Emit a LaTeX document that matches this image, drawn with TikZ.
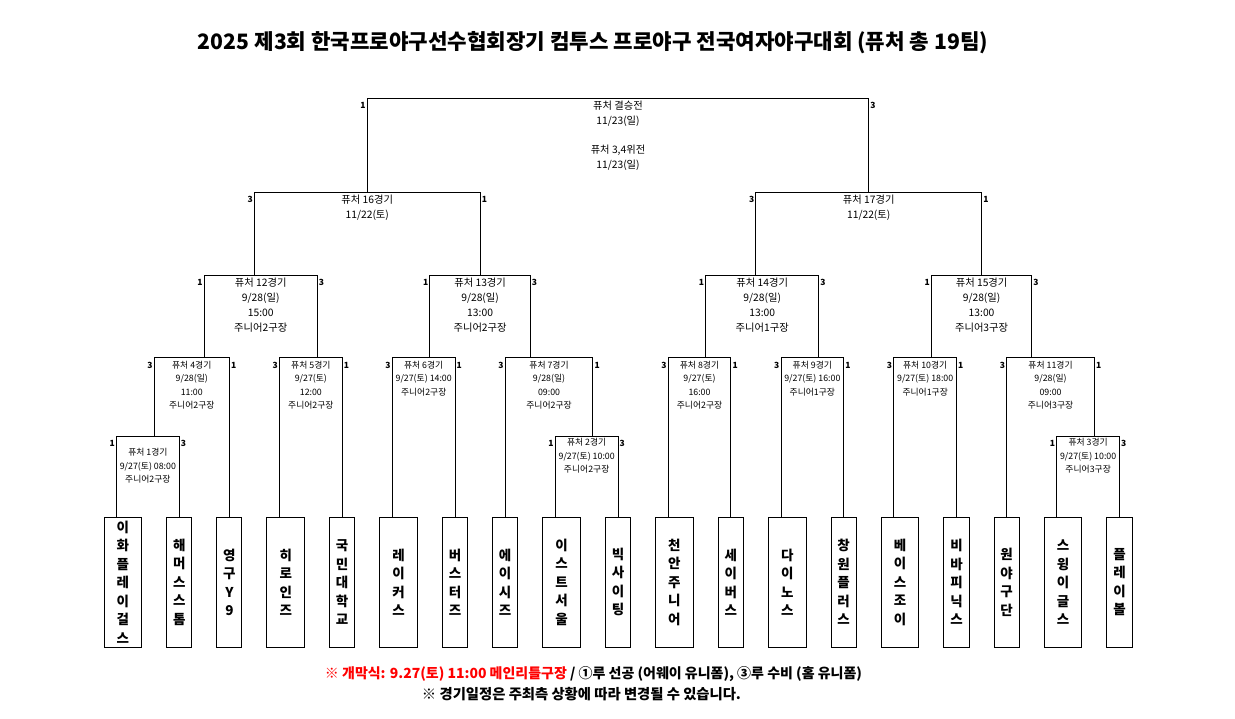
\documentclass[tikz,border=0pt]{standalone}
\usepackage{fontspec}
\usepackage{graphicx}
\setmainfont{Noto Sans CJK KR}
\definecolor{redtxt}{RGB}{255,0,0}
\tikzset{
  ln/.style={line width=1pt},
  team/.style={draw, line width=1pt, inner sep=0pt, minimum height=129.7pt, align=center,
    font=\fontsize{13.5}{18.5}\selectfont\bfseries},
  gbig/.style={align=center, font=\fontsize{10.3}{15}\selectfont, inner sep=0pt, anchor=north},
  gsmall/.style={align=center, font=\fontsize{8.8}{13.3}\selectfont, inner sep=0pt, anchor=north},
  score/.style={font=\fontsize{8.5}{9}\selectfont\bfseries, inner sep=0pt},
  foot/.style={font=\fontsize{13}{15}\selectfont\bfseries, inner sep=0pt},
}
\newcommand\team[4]{%
  \node[team, minimum width={(#3-#2)*12.537pt}] (#1) at ({104+12.537*(#2+#3)/2},582.15) {#4};}
\newcommand\game[6]{%
  \coordinate (#1L) at ({104+12.537*#2},#4);
  \coordinate (#1R) at ({104+12.537*#3},#4);
  \node[score, anchor=east, xshift=-1.5pt, yshift=-7.5pt] (#1a) at (#1L) {#5};
  \node[score, anchor=west, xshift=1.5pt, yshift=-7.5pt] (#1b) at (#1R) {#6};}
\begin{document}
\begin{tikzpicture}[x=1pt,y=-1pt]
\useasboundingbox[fill=white] (0,0) rectangle (1235,718);
% title
\node (title) at (593,43) {\resizebox{790pt}{!}{\fontsize{20}{24}\selectfont\bfseries 2025 제3회 한국프로야구선수협회장기 컴투스 프로야구 전국여자야구대회 (퓨처 총 19팀)}};
% teams
\team{t1}{0}{3}{이\\화\\플\\레\\이\\걸\\스}
\team{t2}{5}{7}{해\\머\\스\\스\\톰}
\team{t3}{9}{11}{영\\구\\Y\\9}
\team{t4}{13}{16}{히\\로\\인\\즈}
\team{t5}{18}{20}{국\\민\\대\\학\\교}
\team{t6}{22}{25}{레\\이\\커\\스}
\team{t7}{27}{29}{버\\스\\터\\즈}
\team{t8}{31}{33}{에\\이\\시\\즈}
\team{t9}{35}{38}{이\\스\\트\\서\\울}
\team{t10}{40}{42}{빅\\사\\이\\팅}
\team{t11}{44}{47}{천\\안\\주\\니\\어}
\team{t12}{49}{51}{세\\이\\버\\스}
\team{t13}{53}{56}{다\\이\\노\\스}
\team{t14}{58}{60}{창\\원\\플\\러\\스}
\team{t15}{62}{65}{베\\이\\스\\조\\이}
\team{t16}{67}{69}{비\\바\\피\\닉\\스}
\team{t17}{71}{73}{원\\야\\구\\단}
\team{t18}{75}{78}{스\\윙\\이\\글\\스}
\team{t19}{80}{82}{플\\레\\이\\볼}
% games
\game{g1}{1}{6}{436}{1}{3}
\game{g2}{36}{41}{436}{1}{3}
\game{g3}{76}{81}{436}{1}{3}
\game{g4}{4}{10}{357.5}{3}{1}
\game{g5}{14}{19}{357.5}{3}{1}
\game{g6}{23}{28}{357.5}{3}{1}
\game{g7}{32}{39}{357.5}{3}{1}
\game{g8}{45}{50}{357.5}{3}{1}
\game{g9}{54}{59}{357.5}{3}{1}
\game{g10}{63}{68}{357.5}{3}{1}
\game{g11}{72}{79}{357.5}{3}{1}
\game{g12}{8}{17}{275}{1}{3}
\game{g13}{26}{34}{275}{1}{3}
\game{g14}{48}{57}{275}{1}{3}
\game{g15}{66}{74}{275}{1}{3}
\game{g16}{12}{30}{192}{3}{1}
\game{g17}{52}{70}{192}{3}{1}
\game{gf}{21}{61}{98}{1}{3}
% bracket lines
\draw[ln] (g1L |- t1.north) -- (g1L) -- (g1R) -- (g1R |- t2.north);
\draw[ln] (g2L |- t9.north) -- (g2L) -- (g2R) -- (g2R |- t10.north);
\draw[ln] (g3L |- t18.north) -- (g3L) -- (g3R) -- (g3R |- t19.north);
\draw[ln] (g4L |- g1L) -- (g4L) -- (g4R) -- (g4R |- t3.north);
\draw[ln] (g5L |- t4.north) -- (g5L) -- (g5R) -- (g5R |- t5.north);
\draw[ln] (g6L |- t6.north) -- (g6L) -- (g6R) -- (g6R |- t7.north);
\draw[ln] (g7L |- t8.north) -- (g7L) -- (g7R) -- (g7R |- g2R);
\draw[ln] (g8L |- t11.north) -- (g8L) -- (g8R) -- (g8R |- t12.north);
\draw[ln] (g9L |- t13.north) -- (g9L) -- (g9R) -- (g9R |- t14.north);
\draw[ln] (g10L |- t15.north) -- (g10L) -- (g10R) -- (g10R |- t16.north);
\draw[ln] (g11L |- t17.north) -- (g11L) -- (g11R) -- (g11R |- g3R);
\draw[ln] (g12L |- g4L) -- (g12L) -- (g12R) -- (g12R |- g5R);
\draw[ln] (g13L |- g6L) -- (g13L) -- (g13R) -- (g13R |- g7R);
\draw[ln] (g14L |- g8L) -- (g14L) -- (g14R) -- (g14R |- g9R);
\draw[ln] (g15L |- g10L) -- (g15L) -- (g15R) -- (g15R |- g11R);
\draw[ln] (g16L |- g12L) -- (g16L) -- (g16R) -- (g16R |- g13R);
\draw[ln] (g17L |- g14L) -- (g17L) -- (g17R) -- (g17R |- g15R);
\draw[ln] (gfL |- g16L) -- (gfL) -- (gfR) -- (gfR |- g17R);
% game texts
\path (gfL) -- node[gbig, yshift=-2.5pt] (gft) {퓨처 결승전\\11/23(일)\\[14pt]퓨처 3,4위전\\11/23(일)} (gfR);
\path (g16L) -- node[gbig, yshift=-2.5pt] (g16t) {퓨처 16경기\\11/22(토)} (g16R);
\path (g17L) -- node[gbig, yshift=-2.5pt] (g17t) {퓨처 17경기\\11/22(토)} (g17R);
\path (g12L) -- node[gbig, yshift=-2.5pt] (g12t) {퓨처 12경기\\9/28(일)\\15:00\\주니어2구장} (g12R);
\path (g13L) -- node[gbig, yshift=-2.5pt] (g13t) {퓨처 13경기\\9/28(일)\\13:00\\주니어2구장} (g13R);
\path (g14L) -- node[gbig, yshift=-2.5pt] (g14t) {퓨처 14경기\\9/28(일)\\13:00\\주니어1구장} (g14R);
\path (g15L) -- node[gbig, yshift=-2.5pt] (g15t) {퓨처 15경기\\9/28(일)\\13:00\\주니어3구장} (g15R);
\path (g4L) -- node[gsmall, yshift=-3.5pt] (g4t) {퓨처 4경기\\9/28(일)\\11:00\\주니어2구장} (g4R);
\path (g5L) -- node[gsmall, yshift=-3.5pt] (g5t) {퓨처 5경기\\9/27(토)\\12:00\\주니어2구장} (g5R);
\path (g6L) -- node[gsmall, yshift=-3.5pt] (g6t) {퓨처 6경기\\9/27(토) 14:00\\주니어2구장} (g6R);
\path (g7L) -- node[gsmall, yshift=-3.5pt] (g7t) {퓨처 7경기\\9/28(일)\\09:00\\주니어2구장} (g7R);
\path (g8L) -- node[gsmall, yshift=-3.5pt] (g8t) {퓨처 8경기\\9/27(토)\\16:00\\주니어2구장} (g8R);
\path (g9L) -- node[gsmall, yshift=-3.5pt] (g9t) {퓨처 9경기\\9/27(토) 16:00\\주니어1구장} (g9R);
\path (g10L) -- node[gsmall, yshift=-3.5pt] (g10t) {퓨처 10경기\\9/27(토) 18:00\\주니어1구장} (g10R);
\path (g11L) -- node[gsmall, yshift=-3.5pt] (g11t) {퓨처 11경기\\9/28(일)\\09:00\\주니어3구장} (g11R);
\path (g1L) -- node[gsmall, yshift=-12.5pt] (g1t) {퓨처 1경기\\9/27(토) 08:00\\주니어2구장} (g1R);
\path (g2L) -- node[gsmall, yshift=-2.5pt] (g2t) {퓨처 2경기\\9/27(토) 10:00\\주니어2구장} (g2R);
\path (g3L) -- node[gsmall, yshift=-2.5pt] (g3t) {퓨처 3경기\\9/27(토) 10:00\\주니어3구장} (g3R);
% footer
\node[foot] (foot1) at (593.5,674) {\resizebox{537pt}{!}{\textcolor{redtxt}{※ 개막식: 9.27(토) 11:00 메인리틀구장} / ①루 선공 (어웨이 유니폼), ③루 수비 (홈 유니폼)}};
\node[foot] (foot2) at (581.5,694) {\resizebox{319pt}{!}{※ 경기일정은 주최측 상황에 따라 변경될 수 있습니다.}};
\end{tikzpicture}
\end{document}
